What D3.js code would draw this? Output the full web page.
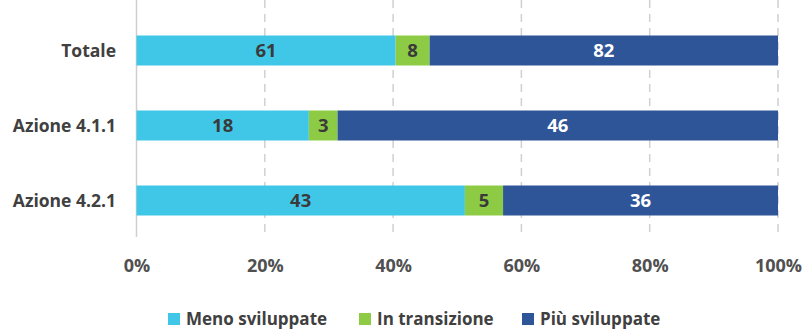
<!DOCTYPE html>
<html><head><meta charset="utf-8">
<script src="https://cdn.jsdelivr.net/npm/d3@7"></script>
<style>body{margin:0;background:#fff}svg{display:block}</style>
</head><body>
<script>
const categories = ["Totale", "Azione 4.1.1", "Azione 4.2.1"];
const seriesNames = ["Meno sviluppate", "In transizione", "Più sviluppate"];
const menoSviluppate = [61, 18, 43];
const inTransizione = [8, 3, 5];
const piuSviluppate = [82, 46, 36];
const tickValues = [0, 0.2, 0.4, 0.6, 0.8, 1.0];
const colors = ["#40C7E8", "#8DCB45", "#2E5597"];
const labelColors = ["#3a3a3a", "#3a3a3a", "#ffffff"];

const W = 804, H = 329;
const svg = d3.select("body").append("svg").attr("width", W).attr("height", H);
const font = "'Open Sans', sans-serif";

const x = d3.scaleLinear().domain([0, 1]).range([136.5, 778]);
const y = d3.scaleBand().domain(categories).range([13, 238]).paddingInner(0.6).paddingOuter(0.3);

const rows = categories.map((c, i) => ({cat: c, v: [menoSviluppate[i], inTransizione[i], piuSviluppate[i]]}));
const table = rows.map(r => {
  const tot = d3.sum(r.v);
  const o = {cat: r.cat};
  seriesNames.forEach((s, j) => { o[s] = r.v[j] / tot; o[s + "_raw"] = r.v[j]; });
  return o;
});
const stacked = d3.stack().keys(seriesNames)(table);

// gridlines
svg.append("g").selectAll("line").data(tickValues.slice(1)).join("line")
  .attr("x1", d => x(d)).attr("x2", d => x(d)).attr("y1", 0).attr("y2", 237)
  .attr("stroke", "#d0d0d0").attr("stroke-width", 1.5).attr("stroke-dasharray", "8,6");
svg.append("line").attr("x1", x(0)).attr("x2", x(0)).attr("y1", 0).attr("y2", 237)
  .attr("stroke", "#cfcfcf").attr("stroke-width", 1.5);

// bars
const layers = svg.append("g").selectAll("g").data(stacked).join("g")
  .attr("fill", (d, i) => colors[i]);
layers.selectAll("rect").data(d => d.map(p => ({p, key: d.key}))).join("rect")
  .attr("x", d => x(d.p[0])).attr("width", d => x(d.p[1]) - x(d.p[0]))
  .attr("y", d => y(d.p.data.cat)).attr("height", y.bandwidth());

// value labels
stacked.forEach((layer, i) => {
  svg.append("g").selectAll("text").data(layer).join("text")
    .attr("x", d => (x(d[0]) + x(d[1])) / 2)
    .attr("y", d => y(d.data.cat) + y.bandwidth() / 2)
    .attr("dy", "0.36em").attr("text-anchor", "middle")
    .attr("font-family", font).attr("font-weight", "bold").attr("font-size", 18.5)
    .attr("fill", labelColors[i])
    .text(d => d.data[layer.key + "_raw"]);
});

// category axis labels
svg.append("g").selectAll("text").data(categories).join("text")
  .attr("x", 116).attr("y", d => y(d) + y.bandwidth() / 2).attr("dy", "0.36em")
  .attr("text-anchor", "end").attr("font-family", font).attr("font-weight", "bold")
  .attr("font-size", 17.5).attr("fill", "#404040").text(d => d);

// x axis
const xAxis = svg.append("g").attr("transform", "translate(0,266)")
  .call(d3.axisBottom(x).tickValues(tickValues).tickFormat(d3.format(".0%")).tickSize(0).tickPadding(0));
xAxis.select(".domain").remove();
xAxis.selectAll("text").attr("dy", "0.36em").attr("font-family", font).attr("font-weight", "bold")
  .attr("font-size", 18).attr("fill", "#505050");

// legend
const legX = [168, 359, 522];
const leg = svg.append("g").selectAll("g").data(seriesNames).join("g")
  .attr("transform", (d, i) => `translate(${legX[i]},319)`);
leg.append("rect").attr("x", 0).attr("y", -6).attr("width", 12).attr("height", 12)
  .attr("fill", (d, i) => colors[i]);
leg.append("text").attr("x", 18).attr("dy", "0.36em").attr("font-family", font)
  .attr("font-weight", "bold").attr("font-size", 17).attr("fill", "#404040").text(d => d);
</script>
</body></html>
